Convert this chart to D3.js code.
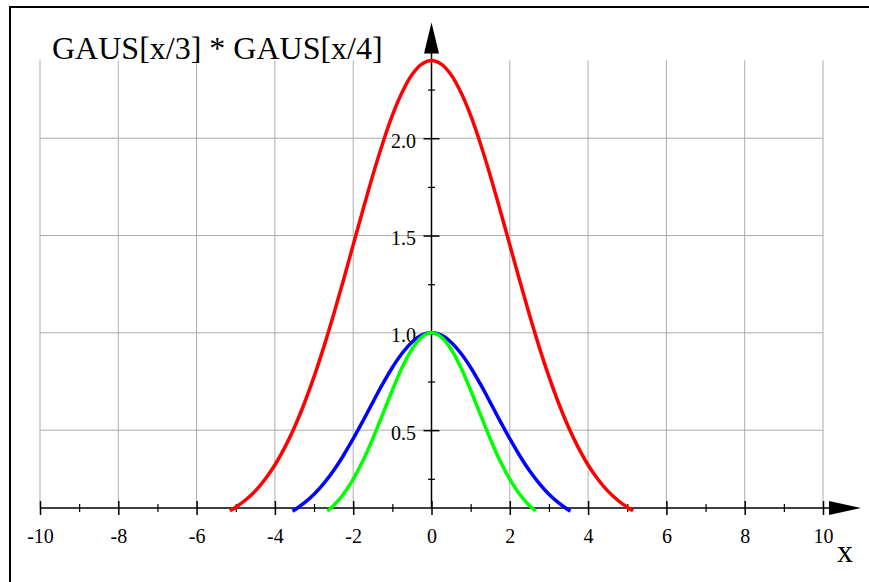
<!DOCTYPE html>
<html>
<head>
<meta charset="utf-8">
<script src="https://cdn.jsdelivr.net/npm/d3@7"></script>
<style>
  html, body { margin: 0; padding: 0; background: #fff; }
  svg { display: block; }
  text { font-family: "Liberation Serif", "Times New Roman", serif; fill: #000; }
</style>
</head>
<body>
<svg id="chart" width="869" height="582"></svg>
<script>
// Sampled curves: GAUS[x/4] (blue), GAUS[x/3] (green) and their convolution (red)
const redX   = [-5.15,-5,-4.75,-4.5,-4.25,-4,-3.75,-3.5,-3.25,-3,-2.75,-2.5,-2.25,-2,-1.75,-1.5,-1.25,-1,-0.75,-0.5,-0.25,0,
                0.25,0.5,0.75,1,1.25,1.5,1.75,2,2.25,2.5,2.75,3,3.25,3.5,3.75,4,4.25,4.5,4.75,5,5.15];
const redY   = [0.086,0.104,0.141,0.188,0.248,0.321,0.410,0.515,0.637,0.775,0.928,1.094,1.270,1.452,1.633,1.809,1.972,2.117,2.236,2.326,2.381,2.4,
                2.381,2.326,2.236,2.117,1.972,1.809,1.633,1.452,1.270,1.094,0.928,0.775,0.637,0.515,0.410,0.321,0.248,0.188,0.141,0.104,0.086];
const blueX  = [-3.55,-3.5,-3.25,-3,-2.75,-2.5,-2.25,-2,-1.75,-1.5,-1.25,-1,-0.75,-0.5,-0.25,0,
                0.25,0.5,0.75,1,1.25,1.5,1.75,2,2.25,2.5,2.75,3,3.25,3.5,3.55];
const blueY  = [0.084,0.090,0.126,0.171,0.227,0.293,0.370,0.456,0.548,0.643,0.736,0.822,0.895,0.952,0.988,1.0,
                0.988,0.952,0.895,0.822,0.736,0.643,0.548,0.456,0.370,0.293,0.227,0.171,0.126,0.090,0.084];
const greenX = [-2.66,-2.5,-2.25,-2,-1.75,-1.5,-1.25,-1,-0.75,-0.5,-0.25,0,
                0.25,0.5,0.75,1,1.25,1.5,1.75,2,2.25,2.5,2.66];
const greenY = [0.085,0.113,0.171,0.248,0.343,0.456,0.580,0.705,0.822,0.916,0.978,1.0,
                0.978,0.916,0.822,0.705,0.580,0.456,0.343,0.248,0.171,0.113,0.085];

const xMajorTicks = [-10,-8,-6,-4,-2,0,2,4,6,8,10];
const xMinorTicks = [-9,-7,-5,-3,-1,1,3,5,7,9];
const yMajorTicks = [0.5,1.0,1.5,2.0];
const yMinorTicks = [0.25,0.75,1.25,1.75,2.25];
const titleText = "GAUS[x/3] * GAUS[x/4]";
const xAxisLabel = "x";

const svg = d3.select("#chart");
const serif = '"Liberation Serif", "Times New Roman", serif';

const x = d3.scaleLinear().domain([-10, 10]).range([40, 823]);
const y = d3.scaleLinear().domain([0.1, 2.4]).range([508, 60.4]);
const x0 = x(0);

// Frame (top and left edges)
svg.append("line").attr("x1", 10).attr("x2", 869).attr("y1", 7).attr("y2", 7)
  .attr("stroke", "#000").attr("stroke-width", 2);
svg.append("line").attr("x1", 10).attr("x2", 10).attr("y1", 6).attr("y2", 582)
  .attr("stroke", "#000").attr("stroke-width", 2);

// Grid
const grid = svg.append("g").attr("stroke", "#acacac").attr("stroke-width", 1);
grid.selectAll("line.v").data(xMajorTicks).join("line")
  .attr("x1", d => x(d)).attr("x2", d => x(d))
  .attr("y1", y.range()[1]).attr("y2", y.range()[0]);
grid.selectAll("line.h").data(yMajorTicks).join("line")
  .attr("x1", x.range()[0]).attr("x2", x.range()[1])
  .attr("y1", d => y(d)).attr("y2", d => y(d));

// X axis
const axisY = y(0.1);
svg.append("line").attr("x1", x(-10)).attr("x2", 850).attr("y1", axisY).attr("y2", axisY)
  .attr("stroke", "#000").attr("stroke-width", 1.5);
svg.append("path")
  .attr("d", `M${x(10) + 6},${axisY - 7} L${x(10) + 38},${axisY} L${x(10) + 6},${axisY + 7} Z`)
  .attr("fill", "#000");

const xMajor = svg.append("g").attr("transform", `translate(0,${axisY})`)
  .call(d3.axisBottom(x).tickValues(xMajorTicks).tickSize(7).tickPadding(14).tickFormat(d => String(d)));
xMajor.select(".domain").remove();
xMajor.selectAll(".tick line").attr("y1", -7).attr("stroke", "#000").attr("stroke-width", 1.5);
xMajor.selectAll(".tick text").attr("font-size", 20).attr("font-family", serif).attr("fill", "#000");

const xMinor = svg.append("g").attr("transform", `translate(0,${axisY})`)
  .call(d3.axisBottom(x).tickValues(xMinorTicks).tickSize(4).tickFormat(""));
xMinor.select(".domain").remove();
xMinor.selectAll(".tick line").attr("y1", -4).attr("stroke", "#000").attr("stroke-width", 1.2);

// Y axis
svg.append("line").attr("x1", x0).attr("x2", x0).attr("y1", axisY).attr("y2", 40)
  .attr("stroke", "#000").attr("stroke-width", 1.5);
svg.append("path")
  .attr("d", `M${x0 - 7.5},${y(2.4) - 7} L${x0},${y(2.4) - 38} L${x0 + 7.5},${y(2.4) - 7} Z`)
  .attr("fill", "#000");

const yMajor = svg.append("g").attr("transform", `translate(${x0},0)`)
  .call(d3.axisLeft(y).tickValues(yMajorTicks).tickSize(8).tickPadding(8).tickFormat(d3.format(".1f")));
yMajor.select(".domain").remove();
yMajor.selectAll(".tick line").attr("x2", 8).attr("x1", -8).attr("stroke", "#000").attr("stroke-width", 1.5);
yMajor.selectAll(".tick text").attr("font-size", 20).attr("dy", "0.45em").attr("x", -15.5)
  .attr("font-family", serif).attr("fill", "#000");

const yMinor = svg.append("g").attr("transform", `translate(${x0},0)`)
  .call(d3.axisLeft(y).tickValues(yMinorTicks).tickSize(3.5).tickFormat(""));
yMinor.select(".domain").remove();
yMinor.selectAll(".tick line").attr("x1", -3.5).attr("x2", 3.5).attr("stroke", "#000").attr("stroke-width", 1.2);

// Title and axis name
svg.append("text").attr("x", 52).attr("y", 59).attr("font-size", 32).text(titleText);
svg.append("text").attr("x", 837).attr("y", 562).attr("font-size", 32).text(xAxisLabel);

// Curves
const line = d3.line().x(d => x(d[0])).y(d => y(d[1])).curve(d3.curveCatmullRom);
const series = [
  { xs: redX, ys: redY, color: "#ff0000" },
  { xs: blueX, ys: blueY, color: "#0000ff" },
  { xs: greenX, ys: greenY, color: "#00ff00" }
];
svg.append("g").selectAll("path").data(series).join("path")
  .attr("d", s => line(s.xs.map((v, i) => [v, s.ys[i]])))
  .attr("fill", "none")
  .attr("stroke", s => s.color)
  .attr("stroke-width", 3.5);
</script>
</body>
</html>
